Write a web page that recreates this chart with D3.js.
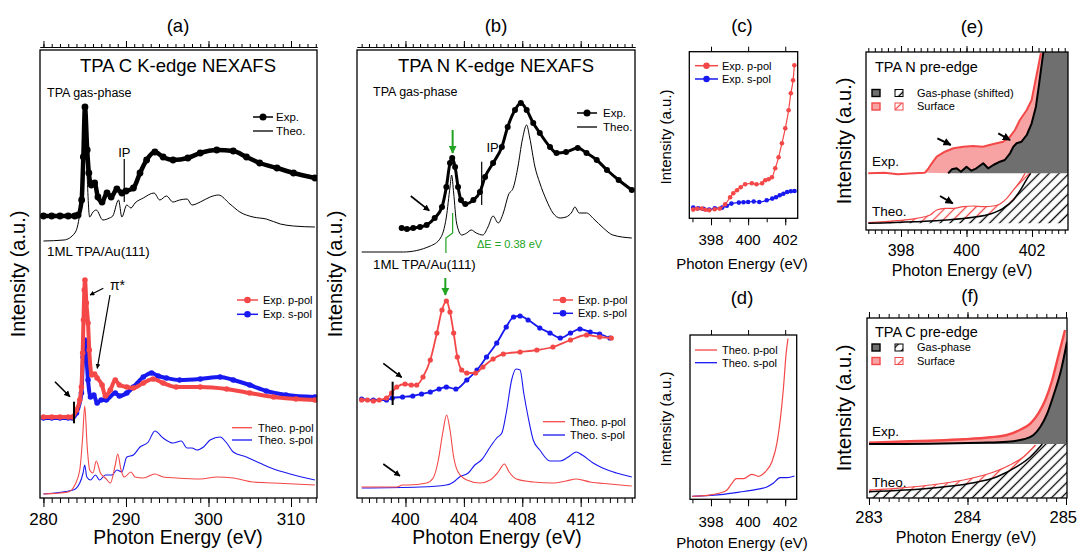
<!DOCTYPE html>
<html>
<head>
<meta charset="utf-8">
<script src="https://cdn.jsdelivr.net/npm/d3@7"></script>
<style>
  body { margin: 0; background: #fff; }
  svg text { font-family: 'Liberation Sans', Arial, Helvetica, sans-serif; fill: #000; }
</style>
</head>
<body>
<svg id="fig" width="1078" height="552"></svg>
<script>
// ---- data: [photon energy (eV), intensity (a.u.)] ----

// (a) C K-edge
const aGasExp = [[280,282],[281,282],[282,282],[283,282],[283.8,282],[284.2,283],[284.63,298],[284.83,341],[285.03,391],[285.3,348],[285.5,325],[285.8,313],[286.2,315],[286.6,301],[287.1,296],[287.7,305],[288.2,301],[288.9,309],[289.5,305],[290.0,307],[290.9,310],[291.7,325],[292.5,338],[293.5,346],[294.5,341],[295.7,338],[297.5,340],[299.0,345],[301.0,348],[303.0,347],[304.6,341],[306.2,335],[308.3,330],[310.3,325],[312.9,320]];
const aGasTheo = [[280,257],[282.5,258],[283.8,265],[284.4,285],[284.8,331],[285.0,388],[285.25,331],[285.6,281],[286.0,286],[286.4,288],[287.2,278],[288.0,280],[288.4,282],[289.1,298],[289.5,281],[290.1,293],[290.6,290],[291.1,295],[292.1,300],[293.4,305],[294.1,298],[294.9,302],[295.7,296],[296.5,298],[297.4,299],[298.0,293],[299.0,296],[300.2,301],[301.2,303],[302.6,294],[303.8,286],[305.4,281],[307.0,279],[308.7,274],[310.3,272],[312.9,271]];
const aSurfP = [[280,81],[281,81],[282,81],[283,81],[283.5,81],[284.0,88],[284.4,98],[284.6,111],[284.75,145],[284.85,178],[284.95,208],[285.03,218],[285.2,195],[285.4,175],[285.55,148],[285.85,123],[286.2,124],[286.5,120],[287.1,113],[287.5,102],[288.1,108],[288.7,118],[289.2,113],[290.1,111],[290.9,110],[292.1,115],[293.3,119],[294.5,115],[296.1,111],[299.0,111],[302.2,109],[305.0,105],[307.9,101],[310.6,99],[312.9,98]];
const aSurfS = [[280,80],[281,80],[282,80],[283,80],[283.5,80],[284.0,85],[284.6,105],[284.8,141],[285.0,158],[285.2,141],[285.4,118],[285.7,101],[286.1,103],[286.5,95],[287.0,98],[287.6,98],[288.7,105],[289.2,102],[290.1,105],[290.9,111],[292.1,121],[293.1,125],[293.9,122],[294.9,120],[296.5,118],[299.0,119],[301.4,121],[303.0,118],[305.0,113],[307.0,107],[309.4,103],[312.9,101]];
const aTheoP = [[280,4],[283.0,6],[283.8,13],[284.4,28],[284.75,61],[285.0,92],[285.3,51],[285.6,28],[286.0,25],[286.4,37],[286.9,25],[287.5,20],[288.1,15],[288.7,33],[289.0,44],[289.4,28],[289.8,21],[290.6,26],[291.1,21],[292.1,20],[293.5,24],[294.5,21],[296.1,20],[299.0,19],[301.0,21],[303.0,20],[305.4,16],[307.9,15],[312.9,13]];
const aTheoS = [[280,4],[283.6,8],[284.4,15],[284.8,25],[285.0,33],[285.25,21],[285.7,18],[286.3,23],[286.8,18],[287.5,23],[288.3,23],[288.9,28],[289.5,26],[290.1,41],[290.9,43],[291.7,51],[292.7,56],[293.5,67],[294.5,60],[295.7,55],[296.7,57],[297.4,50],[298.0,50],[298.6,48],[299.4,51],[300.2,58],[301.4,61],[302.2,55],[303.0,46],[304.6,41],[306.2,35],[307.9,29],[309.9,24],[312.9,18]];

// (b) N K-edge
const bGasExp = [[399.74,270],[400.1,269],[400.53,270],[401.0,271],[401.45,273],[402.0,280],[402.5,291],[402.8,311],[403.05,335],[403.2,340],[403.4,331],[403.6,311],[403.8,298],[404.1,294],[404.65,298],[405.1,306],[405.45,321],[406.0,335],[406.6,351],[407.0,371],[407.5,388],[407.9,395],[408.3,388],[408.75,375],[409.2,365],[409.9,351],[410.35,345],[411.0,346],[411.8,350],[412.4,345],[413.1,338],[413.8,328],[414.6,318],[415.5,308]];
const bGasTheo = [[397.0,246],[399.85,246],[401.7,252],[402.4,260],[402.8,281],[403.05,311],[403.16,323],[403.3,305],[403.5,275],[403.85,263],[404.2,265],[404.5,268],[404.85,265],[405.3,263],[405.65,271],[406.0,282],[406.35,275],[406.7,285],[407.05,303],[407.4,311],[407.7,331],[408.0,358],[408.3,373],[408.5,361],[408.87,331],[409.2,315],[409.65,298],[410.1,285],[410.6,280],[411.0,281],[411.4,286],[411.6,291],[411.9,285],[412.4,285],[412.9,279],[413.55,270],[414.2,263],[415.5,260]];
const bSurfP = [[397.0,98],[397.4,98],[397.8,97],[398.2,98],[398.7,100],[399.05,105],[399.4,111],[399.97,114],[400.4,113],[400.77,113],[401.2,121],[401.7,138],[402.15,165],[402.5,188],[402.8,197],[403.05,186],[403.3,165],[403.55,141],[403.85,128],[404.2,125],[404.8,125],[405.3,131],[406.0,139],[406.7,144],[407.85,146],[409.0,148],[410.1,151],[411.3,158],[412.4,163],[413.3,161],[414.1,160]];
const bSurfS = [[397.0,99],[397.8,98],[398.7,98],[399.1,100],[399.8,101],[400.5,102],[401.1,104],[401.7,106],[402.3,109],[402.8,111],[403.45,109],[404.2,118],[404.9,128],[405.55,141],[406.25,155],[406.9,171],[407.4,181],[407.85,182],[408.4,178],[409.2,170],[409.9,165],[410.6,160],[411.3,165],[411.95,169],[412.65,166],[413.3,164],[414.0,160]];
const bTheoP = [[397.0,11],[399.4,11],[399.8,13],[400.2,13],[401.45,15],[401.9,20],[402.25,38],[402.55,65],[402.82,83],[403.05,68],[403.3,41],[403.6,26],[404.2,18],[405.1,15],[405.8,18],[406.35,26],[406.77,34],[407.1,26],[407.6,19],[408.75,16],[410.1,15],[411.0,17],[411.7,19],[412.65,16],[414.0,14],[415.5,12]];
const bTheoS = [[397.0,10],[401.0,11],[402.8,13],[403.3,16],[403.7,21],[404.3,25],[404.75,33],[405.2,38],[405.8,51],[406.25,60],[406.6,65],[406.9,85],[407.27,118],[407.57,129],[407.85,128],[408.1,105],[408.4,81],[408.75,58],[409.2,48],[409.9,37],[410.6,37],[411.15,41],[411.7,46],[412.1,43],[412.85,35],[413.5,30],[414.45,25],[415.5,21]];

// (c) experimental N pre-edge
const cExpP = [[397.04,8.7],[397.25,9.5],[397.5,9.7],[397.7,8.5],[397.9,8],[398.2,9],[398.47,9.7],[398.76,14],[399.03,21],[399.2,25],[399.4,28],[399.6,31],[399.84,34],[400.2,35],[400.45,34],[400.75,35],[400.92,38],[401.1,39],[401.28,41],[401.46,50],[401.64,61],[401.82,75],[402.0,90],[402.18,108],[402.3,125],[402.42,138],[402.49,153]];
const cExpS = [[397.04,10.7],[397.3,10],[397.6,9.5],[397.9,8.7],[398.2,10],[398.6,10.7],[398.85,12.5],[399.1,14.7],[399.5,15.7],[399.75,16],[400.0,16.3],[400.3,16.8],[400.6,16.3],[401.0,18],[401.3,19.7],[401.5,21],[401.7,23],[401.9,24.5],[402.1,26.3],[402.3,27],[402.5,27.3]];

// (d) theoretical N pre-edge
const dTheoP = [[396.99,3],[397.8,4],[398.49,6.3],[398.85,9],[399.12,15.7],[399.36,20.7],[399.76,20.7],[400.2,25],[400.56,23],[400.92,27.3],[401.28,37.3],[401.55,55.7],[401.73,79],[401.91,112.3],[402.05,145.7],[402.15,160.7]];
const dTheoS = [[396.99,3],[398.67,5],[399.57,7.3],[400.47,10],[401.01,12.3],[401.37,16.3],[401.73,21.7],[402.1,21.7],[402.5,23.3]];

// (e) N pre-edge, surface vs gas-phase (shifted)
const eExpBase = 56.7;
const eTheoFloor = 6.7;
const eExpSurf = [[397.0,56.7],[397.5,57.3],[397.9,55.7],[398.4,56.7],[398.73,57.3],[398.84,61.7],[398.94,66.7],[399.09,73.3],[399.34,78.3],[399.6,81.7],[399.9,83.3],[400.2,84],[400.5,83.3],[400.82,86],[401.12,88.3],[401.33,93.3],[401.48,100],[401.63,110],[401.84,120],[401.99,130],[402.09,146.7],[402.19,163.3],[402.27,176.7]];
const eExpGas = [[399.44,56.7],[399.55,60.7],[399.7,61.7],[399.83,58.3],[400.0,63.3],[400.15,59.3],[400.3,61.7],[400.51,66.7],[400.66,61.7],[400.82,65],[401.02,68.3],[401.17,70],[401.33,76.7],[401.43,83.3],[401.53,86.7],[401.68,88.3],[401.84,95],[401.99,106.7],[402.12,123.3],[402.22,146.7],[402.3,166.7],[402.35,178.3]];
const eTheoSurf = [[397.0,7.3],[397.87,9.3],[398.48,11.7],[398.89,15],[399.09,20],[399.34,21.7],[399.6,21.7],[399.9,23.3],[400.2,24],[400.51,23.3],[400.82,24],[401.02,26],[401.23,31.7],[401.43,40],[401.63,48.3],[401.79,56.7]];
const eTheoGas = [[397.0,6.7],[398.4,8.3],[399.4,10],[400.2,12.7],[400.72,16],[401.12,21.7],[401.43,30],[401.68,41.7],[401.89,53.3],[401.96,56.7]];

// (f) C pre-edge
const fExpBase = 54;
const fTheoFloor = 0;
const fExpSurf = [[283.0,55.3],[283.28,56.3],[283.62,57.3],[283.96,58.7],[284.23,60.7],[284.4,63],[284.53,68],[284.64,74.7],[284.72,84.7],[284.79,98],[284.86,118],[284.92,141.3],[284.99,168]];
const fExpGas = [[283.0,54],[283.62,54.3],[284.13,55.3],[284.4,56.3],[284.57,58.7],[284.67,63],[284.74,71.3],[284.81,84.7],[284.88,104.7],[284.95,128],[285.01,156.3]];
const fTheoSurf = [[283.0,8],[283.28,9.7],[283.62,13],[283.96,18],[284.23,24.7],[284.43,33],[284.57,41.3],[284.69,53]];
const fTheoGas = [[283.0,6.3],[283.62,9.7],[284.03,14.7],[284.3,21.3],[284.5,31.3],[284.64,41.3],[284.76,54]];

// tick labels
const aMajor = [280, 290, 300, 310];
const bMajor = [400, 404, 408, 412];
const cdMajor = [398, 400, 402];
const eMajor = [398, 400, 402];
const fMajor = [283, 284, 285];

// ---- drawing ----
const RED = '#f44848', BLUE = '#1818f0', PINK = '#f7a3a3', GRAY = '#6f6f6f', GREEN = '#22a322';

const svg = d3.select('#fig');
const defs = svg.append('defs');

function marker(id, color) {
  defs.append('marker')
    .attr('id', id)
    .attr('viewBox', '0 0 10 10')
    .attr('refX', 9).attr('refY', 5)
    .attr('markerWidth', 4).attr('markerHeight', 4)
    .attr('orient', 'auto')
    .append('path').attr('d', 'M0,0L10,5L0,10z').attr('fill', color);
}
marker('ahK', '#000');
marker('ahG', GREEN);

function hatch(id, color) {
  defs.append('pattern')
    .attr('id', id)
    .attr('patternUnits', 'userSpaceOnUse')
    .attr('width', 7).attr('height', 7)
    .attr('patternTransform', 'rotate(45)')
    .append('line')
      .attr('x1', 3.5).attr('y1', 0).attr('x2', 3.5).attr('y2', 7)
      .attr('stroke', color).attr('stroke-width', 1.3);
}
hatch('hatchK', '#000');
hatch('hatchR', RED);

function makePanel(p) {
  const x = d3.scaleLinear().domain(p.xDomain).range([p.left, p.right]);
  const y = d3.scaleLinear().domain([0, p.bottom - p.top]).range([p.bottom, p.top]);
  const g = svg.append('g');
  defs.append('clipPath').attr('id', 'clip' + p.name)
    .append('rect')
      .attr('x', p.left).attr('y', p.top)
      .attr('width', p.right - p.left).attr('height', p.bottom - p.top);
  const plot = g.append('g').attr('clip-path', `url(#clip${p.name})`);
  return Object.assign({ x, y, g, plot }, p);
}

function frame(P) {
  P.g.append('rect')
    .attr('x', P.left).attr('y', P.top)
    .attr('width', P.right - P.left).attr('height', P.bottom - P.top)
    .attr('fill', 'none').attr('stroke', '#000').attr('stroke-width', 1.3);
}

function tickRow(P, values, len, side, offset) {
  const ax = (side === 'bottom' ? d3.axisBottom(P.x) : d3.axisTop(P.x))
    .tickValues(values).tickSize(len).tickSizeOuter(0).tickFormat('');
  const yPos = side === 'bottom' ? P.bottom + (offset || 0) : P.top - (offset || 0);
  const g = P.g.append('g').attr('transform', `translate(0,${yPos})`).call(ax);
  if (!offset) g.select('.domain').remove();
  g.select('.domain').attr('stroke', '#000');
  g.selectAll('line').attr('stroke', '#000').attr('stroke-width', 1);
}

// labels near the right edge of the picture are right-aligned so they stay inside it
function tickLabels(P, values, size, off) {
  P.g.append('g').selectAll('text')
    .data(values)
    .join('text')
      .attr('x', d => P.x(d) > 1055 ? 1077 : P.x(d))
      .attr('y', P.bottom + off)
      .attr('text-anchor', d => P.x(d) > 1055 ? 'end' : 'middle')
      .attr('font-size', size)
      .text(d => d);
}

function label(g, x, y, str, size, anchor, color) {
  return g.append('text')
    .attr('x', x).attr('y', y)
    .attr('font-size', size)
    .attr('text-anchor', anchor || 'start')
    .style('fill', color || '#000')
    .text(str);
}

function yTitle(P, x, cy, size) {
  P.g.append('text')
    .attr('transform', `translate(${x},${cy}) rotate(-90)`)
    .attr('text-anchor', 'middle')
    .attr('font-size', size)
    .text('Intensity (a.u.)');
}

function line(P, curve) {
  return d3.line().x(d => P.x(d[0])).y(d => P.y(d[1])).curve(curve || d3.curveMonotoneX);
}

function drawLine(P, data, color, width, curve) {
  P.plot.append('path')
    .datum(data)
    .attr('d', line(P, curve))
    .attr('fill', 'none')
    .attr('stroke', color)
    .attr('stroke-width', width)
    .attr('stroke-linejoin', 'round');
}

function drawDots(P, data, color, r, width) {
  drawLine(P, data, color, width);
  P.plot.append('g').selectAll('circle')
    .data(data)
    .join('circle')
      .attr('cx', d => P.x(d[0]))
      .attr('cy', d => P.y(d[1]))
      .attr('r', r)
      .attr('fill', color);
}

function drawPoly(P, data, fill) {
  P.plot.append('path')
    .datum(data)
    .attr('d', line(P, d3.curveLinearClosed))
    .attr('fill', fill)
    .attr('stroke', 'none');
}

// a = [e1, i1, e2, i2]
function arrow(P, a, color, width) {
  P.g.append('line')
    .attr('x1', P.x(a[0])).attr('y1', P.y(a[1]))
    .attr('x2', P.x(a[2])).attr('y2', P.y(a[3]))
    .attr('stroke', color || '#000')
    .attr('stroke-width', width || 1.6)
    .attr('marker-end', color === GREEN ? 'url(#ahG)' : 'url(#ahK)');
}

function seg(P, pts, color, width) {
  P.g.append('path')
    .datum(pts)
    .attr('d', line(P, d3.curveLinear))
    .attr('fill', 'none')
    .attr('stroke', color)
    .attr('stroke-width', width);
}

// legend rows: { y, text, color, dot }
function legend(g, x0, x1, tx, rows, size, r) {
  rows.forEach(row => {
    g.append('line')
      .attr('x1', x0).attr('x2', x1).attr('y1', row.y).attr('y2', row.y)
      .attr('stroke', row.color).attr('stroke-width', row.dot ? 1.5 : 1.3);
    if (row.dot) {
      g.append('circle').attr('cx', (x0 + x1) / 2).attr('cy', row.y).attr('r', r).attr('fill', row.color);
    }
    label(g, tx, row.y, row.text, size).attr('dy', '0.36em');
  });
}

function boxLegend(g, y, text, fillA, strokeC, hatchId) {
  g.append('rect').attr('x', 872).attr('y', y - 3.5).attr('width', 8).attr('height', 7)
    .attr('fill', fillA).attr('stroke', strokeC).attr('stroke-width', 1.4);
  g.append('rect').attr('x', 895).attr('y', y - 3.5).attr('width', 8).attr('height', 7)
    .attr('fill', `url(#${hatchId})`).attr('stroke', strokeC).attr('stroke-width', 1);
  label(g, 917, y, text, 11).attr('dy', '0.36em');
}

const titles = svg.append('g');

// ---------- panel (a) ----------
const A = makePanel({ name: 'a', left: 40, right: 317, top: 50, bottom: 498, xDomain: [279.58, 313.15] });
drawLine(A, aGasTheo, '#000', 1);
drawDots(A, aGasExp, '#000', 3.4, 4.5);
drawLine(A, aTheoS, BLUE, 1.1);
drawLine(A, aTheoP, RED, 1.1);
drawDots(A, aSurfS, BLUE, 2.8, 4);
drawDots(A, aSurfP, RED, 2.8, 4);
seg(A, [[289.79, 339], [289.79, 296]], '#000', 1.2);
label(A.g, A.x(289.8), A.y(341), 'IP', 13, 'middle');
seg(A, [[283.7, 96.3], [283.7, 74.7]], '#000', 2);
arrow(A, [281.39, 116.3, 283.21, 101.3]);
arrow(A, [287.25, 209.7, 285.64, 203], '#000', 1.2);
arrow(A, [288.06, 203, 286.52, 129.7], '#000', 1.2);
label(A.g, A.x(288.97), A.y(208), 'π*', 14, 'middle');
legend(A.g, 253, 273, 276, [{ y: 117, text: 'Exp.', color: '#000', dot: true }, { y: 131, text: 'Theo.', color: '#000' }], 11.5, 3.5);
legend(A.g, 237, 258, 263, [{ y: 300, text: 'Exp. p-pol', color: RED, dot: true }, { y: 314.3, text: 'Exp. s-pol', color: BLUE, dot: true }], 11, 3.3);
legend(A.g, 232, 252, 258, [{ y: 427.7, text: 'Theo. p-pol', color: RED }, { y: 440, text: 'Theo. s-pol', color: BLUE }], 11);
label(A.g, 178, 72, 'TPA C K-edge NEXAFS', 18.5, 'middle');
label(A.g, 47, 97, 'TPA gas-phase', 12.5);
label(A.g, 47, 256, '1ML TPA/Au(111)', 13.3);
frame(A);
tickRow(A, d3.range(280, 314), 5, 'bottom');
tickRow(A, aMajor, 9, 'bottom');
tickRow(A, d3.range(280, 314), 3, 'top', 3);
tickRow(A, aMajor, 6, 'top', 3);
tickLabels(A, aMajor, 17, 27);
label(A.g, 178, 544, 'Photon Energy (eV)', 19.3, 'middle');
yTitle(A, 25, 274, 20);
label(titles, 178, 32, '(a)', 18.5, 'middle');

// ---------- panel (b) ----------
const B = makePanel({ name: 'b', left: 357, right: 635, top: 50, bottom: 498, xDomain: [396.68, 415.72] });
drawLine(B, bGasTheo, '#000', 1);
drawDots(B, bGasExp, '#000', 3, 3);
drawLine(B, bTheoS, BLUE, 1.1);
drawLine(B, bTheoP, RED, 1.1);
drawDots(B, bSurfS, BLUE, 2.6, 1.8);
drawDots(B, bSurfP, RED, 2.6, 1.8);
arrow(B, [403.23, 368, 403.23, 345], GREEN, 2);
seg(B, [[403.23, 285], [403.23, 265], [402.77, 260], [402.77, 245]], GREEN, 1.2);
label(B.g, B.x(404.9), B.y(250), 'ΔE = 0.38 eV', 11, 'start', GREEN);
seg(B, [[405.22, 336.3], [405.22, 293]], '#000', 1.2);
label(B.g, B.x(405.55), B.y(346), 'IP', 13);
arrow(B, [400.36, 302, 401.63, 287.3]);
arrow(B, [402.73, 220, 402.73, 203], GREEN, 2);
seg(B, [[399.12, 116.3], [399.12, 93]], '#000', 2);
arrow(B, [398.48, 134.7, 399.74, 120.7]);
arrow(B, [398.48, 34, 399.62, 22]);
legend(B.g, 577, 597, 603, [{ y: 113, text: 'Exp.', color: '#000', dot: true }, { y: 127, text: 'Theo.', color: '#000' }], 11.5, 3.5);
legend(B.g, 553, 573, 578, [{ y: 300, text: 'Exp. p-pol', color: RED, dot: true }, { y: 313.3, text: 'Exp. s-pol', color: BLUE, dot: true }], 11, 3.3);
legend(B.g, 543, 565, 570, [{ y: 421.7, text: 'Theo. p-pol', color: RED }, { y: 435, text: 'Theo. s-pol', color: BLUE }], 11);
label(B.g, 496, 72, 'TPA N K-edge NEXAFS', 18.5, 'middle');
label(B.g, 373, 96, 'TPA gas-phase', 12.5);
label(B.g, 373, 269, '1ML TPA/Au(111)', 13.3);
frame(B);
tickRow(B, d3.range(397, 415.6, 0.5), 5, 'bottom');
tickRow(B, bMajor, 9, 'bottom');
tickRow(B, d3.range(397, 415.6, 0.5), 3, 'top', 3);
tickRow(B, bMajor, 6, 'top', 3);
tickLabels(B, bMajor, 17, 27);
label(B.g, 497, 544, 'Photon Energy (eV)', 19.3, 'middle');
yTitle(B, 342, 274, 20);
label(titles, 496, 32, '(b)', 18.5, 'middle');

// ---------- panel (c) ----------
const C = makePanel({ name: 'c', left: 689.3, right: 797.7, top: 51.7, bottom: 218.3, xDomain: [396.83, 402.67] });
drawDots(C, cExpS, BLUE, 2.3, 1.2);
drawDots(C, cExpP, RED, 2.3, 1.2);
legend(C.g, 695, 718, 722, [{ y: 65.7, text: 'Exp. p-pol', color: RED, dot: true }, { y: 79, text: 'Exp. s-pol', color: BLUE, dot: true }], 11, 3.2);
frame(C);
tickRow(C, d3.range(397, 403), 4, 'bottom');
tickRow(C, cdMajor, 7, 'bottom');
tickRow(C, cdMajor, 5, 'top');
tickLabels(C, cdMajor, 15, 27);
label(C.g, 742, 269, 'Photon Energy (eV)', 15, 'middle');
yTitle(C, 671, 137, 15);
label(titles, 742, 32, '(c)', 18.5, 'middle');

// ---------- panel (d) ----------
const D = makePanel({ name: 'd', left: 690, right: 796.7, top: 335, bottom: 499.3, xDomain: [396.87, 402.62] });
drawLine(D, dTheoS, BLUE, 1.2);
drawLine(D, dTheoP, RED, 1.2);
legend(D.g, 695, 717, 722, [{ y: 350, text: 'Theo. p-pol', color: RED }, { y: 362.7, text: 'Theo. s-pol', color: BLUE }], 11);
frame(D);
tickRow(D, d3.range(397, 403), 4, 'bottom');
tickRow(D, cdMajor, 7, 'bottom');
tickRow(D, cdMajor, 5, 'top');
tickLabels(D, cdMajor, 15, 27.5);
label(D.g, 742, 548, 'Photon Energy (eV)', 15, 'middle');
yTitle(D, 671, 419, 15);
label(titles, 742, 304, '(d)', 18.5, 'middle');

// ---------- panel (e) ----------
const E = makePanel({ name: 'e', left: 866, right: 1068, top: 52, bottom: 230, xDomain: [396.93, 403.1] });
const eRight = E.xDomain[1], eTop = E.bottom - E.top;
drawPoly(E, eExpGas.concat([[eRight, eTop], [eRight, eExpBase]]), GRAY);
drawPoly(E, eExpSurf.filter(d => d[0] >= 398.73).concat(eExpGas.slice().reverse()), PINK);
drawPoly(E, eTheoGas.concat([[eRight, eExpBase], [eRight, eTheoFloor], [eTheoGas[0][0], eTheoFloor]]), 'url(#hatchK)');
drawPoly(E, eTheoSurf.concat(eTheoGas.slice().reverse()), 'url(#hatchR)');
drawLine(E, eExpSurf, RED, 2, d3.curveLinear);
drawLine(E, eExpGas, '#000', 2, d3.curveLinear);
drawLine(E, eTheoSurf, RED, 1.2);
drawLine(E, eTheoGas, '#000', 1.5);
arrow(E, [399.11, 91.7, 399.52, 85], '#000', 2);
arrow(E, [400.97, 96.7, 401.33, 90], '#000', 2);
arrow(E, [399.19, 34, 399.58, 26.7], '#000', 2);
label(E.g, 875, 72, 'TPA N pre-edge', 14.5);
boxLegend(E.g, 93, 'Gas-phase (shifted)', GRAY, '#000', 'hatchK');
boxLegend(E.g, 106.5, 'Surface', PINK, RED, 'hatchR');
label(E.g, 872, 166, 'Exp.', 13.5);
label(E.g, 872, 216, 'Theo.', 13.5);
frame(E);
tickRow(E, d3.range(0, 31).map(i => 397 + i * 0.2), 4, 'bottom');
tickRow(E, eMajor, 7, 'bottom');
tickRow(E, d3.range(0, 31).map(i => 397 + i * 0.2), 4, 'top');
tickRow(E, eMajor, 6, 'top');
tickLabels(E, eMajor, 16, 26);
label(E.g, 962, 276, 'Photon Energy (eV)', 16, 'middle');
yTitle(E, 851, 141, 20);
label(titles, 972, 33, '(e)', 18.5, 'middle');

// ---------- panel (f) ----------
const F = makePanel({ name: 'f', left: 867, right: 1067, top: 318, bottom: 498, xDomain: [282.98, 285.01] });
const fRight = F.xDomain[1];
drawPoly(F, fExpGas.concat([[fRight, fExpBase]]), GRAY);
drawPoly(F, fExpSurf.concat(fExpGas.slice().reverse()), PINK);
drawPoly(F, fTheoGas.concat([[fRight, fExpBase], [fRight, fTheoFloor], [fTheoGas[0][0], fTheoFloor]]), 'url(#hatchK)');
drawPoly(F, fTheoSurf.concat(fTheoGas.slice().reverse()), 'url(#hatchR)');
drawLine(F, fExpSurf, RED, 2.4);
drawLine(F, fExpGas, '#000', 2);
drawLine(F, fTheoSurf, RED, 1.2);
drawLine(F, fTheoGas, '#000', 1.5);
label(F.g, 875, 337, 'TPA C pre-edge', 14.5);
boxLegend(F.g, 347.5, 'Gas-phase', GRAY, '#000', 'hatchK');
boxLegend(F.g, 361, 'Surface', PINK, RED, 'hatchR');
label(F.g, 872, 436, 'Exp.', 13.5);
label(F.g, 872, 487, 'Theo.', 13.5);
frame(F);
tickRow(F, d3.range(0, 21).map(i => 283 + i * 0.1), 4, 'bottom');
tickRow(F, fMajor, 7, 'bottom');
tickRow(F, d3.range(0, 21).map(i => 283 + i * 0.1), 4, 'top');
tickRow(F, fMajor, 6, 'top');
tickLabels(F, fMajor, 16.5, 25);
label(F.g, 966, 543, 'Photon Energy (eV)', 16, 'middle');
yTitle(F, 851, 408, 20);
label(titles, 970, 302, '(f)', 18.5, 'middle');
</script>
</body>
</html>
